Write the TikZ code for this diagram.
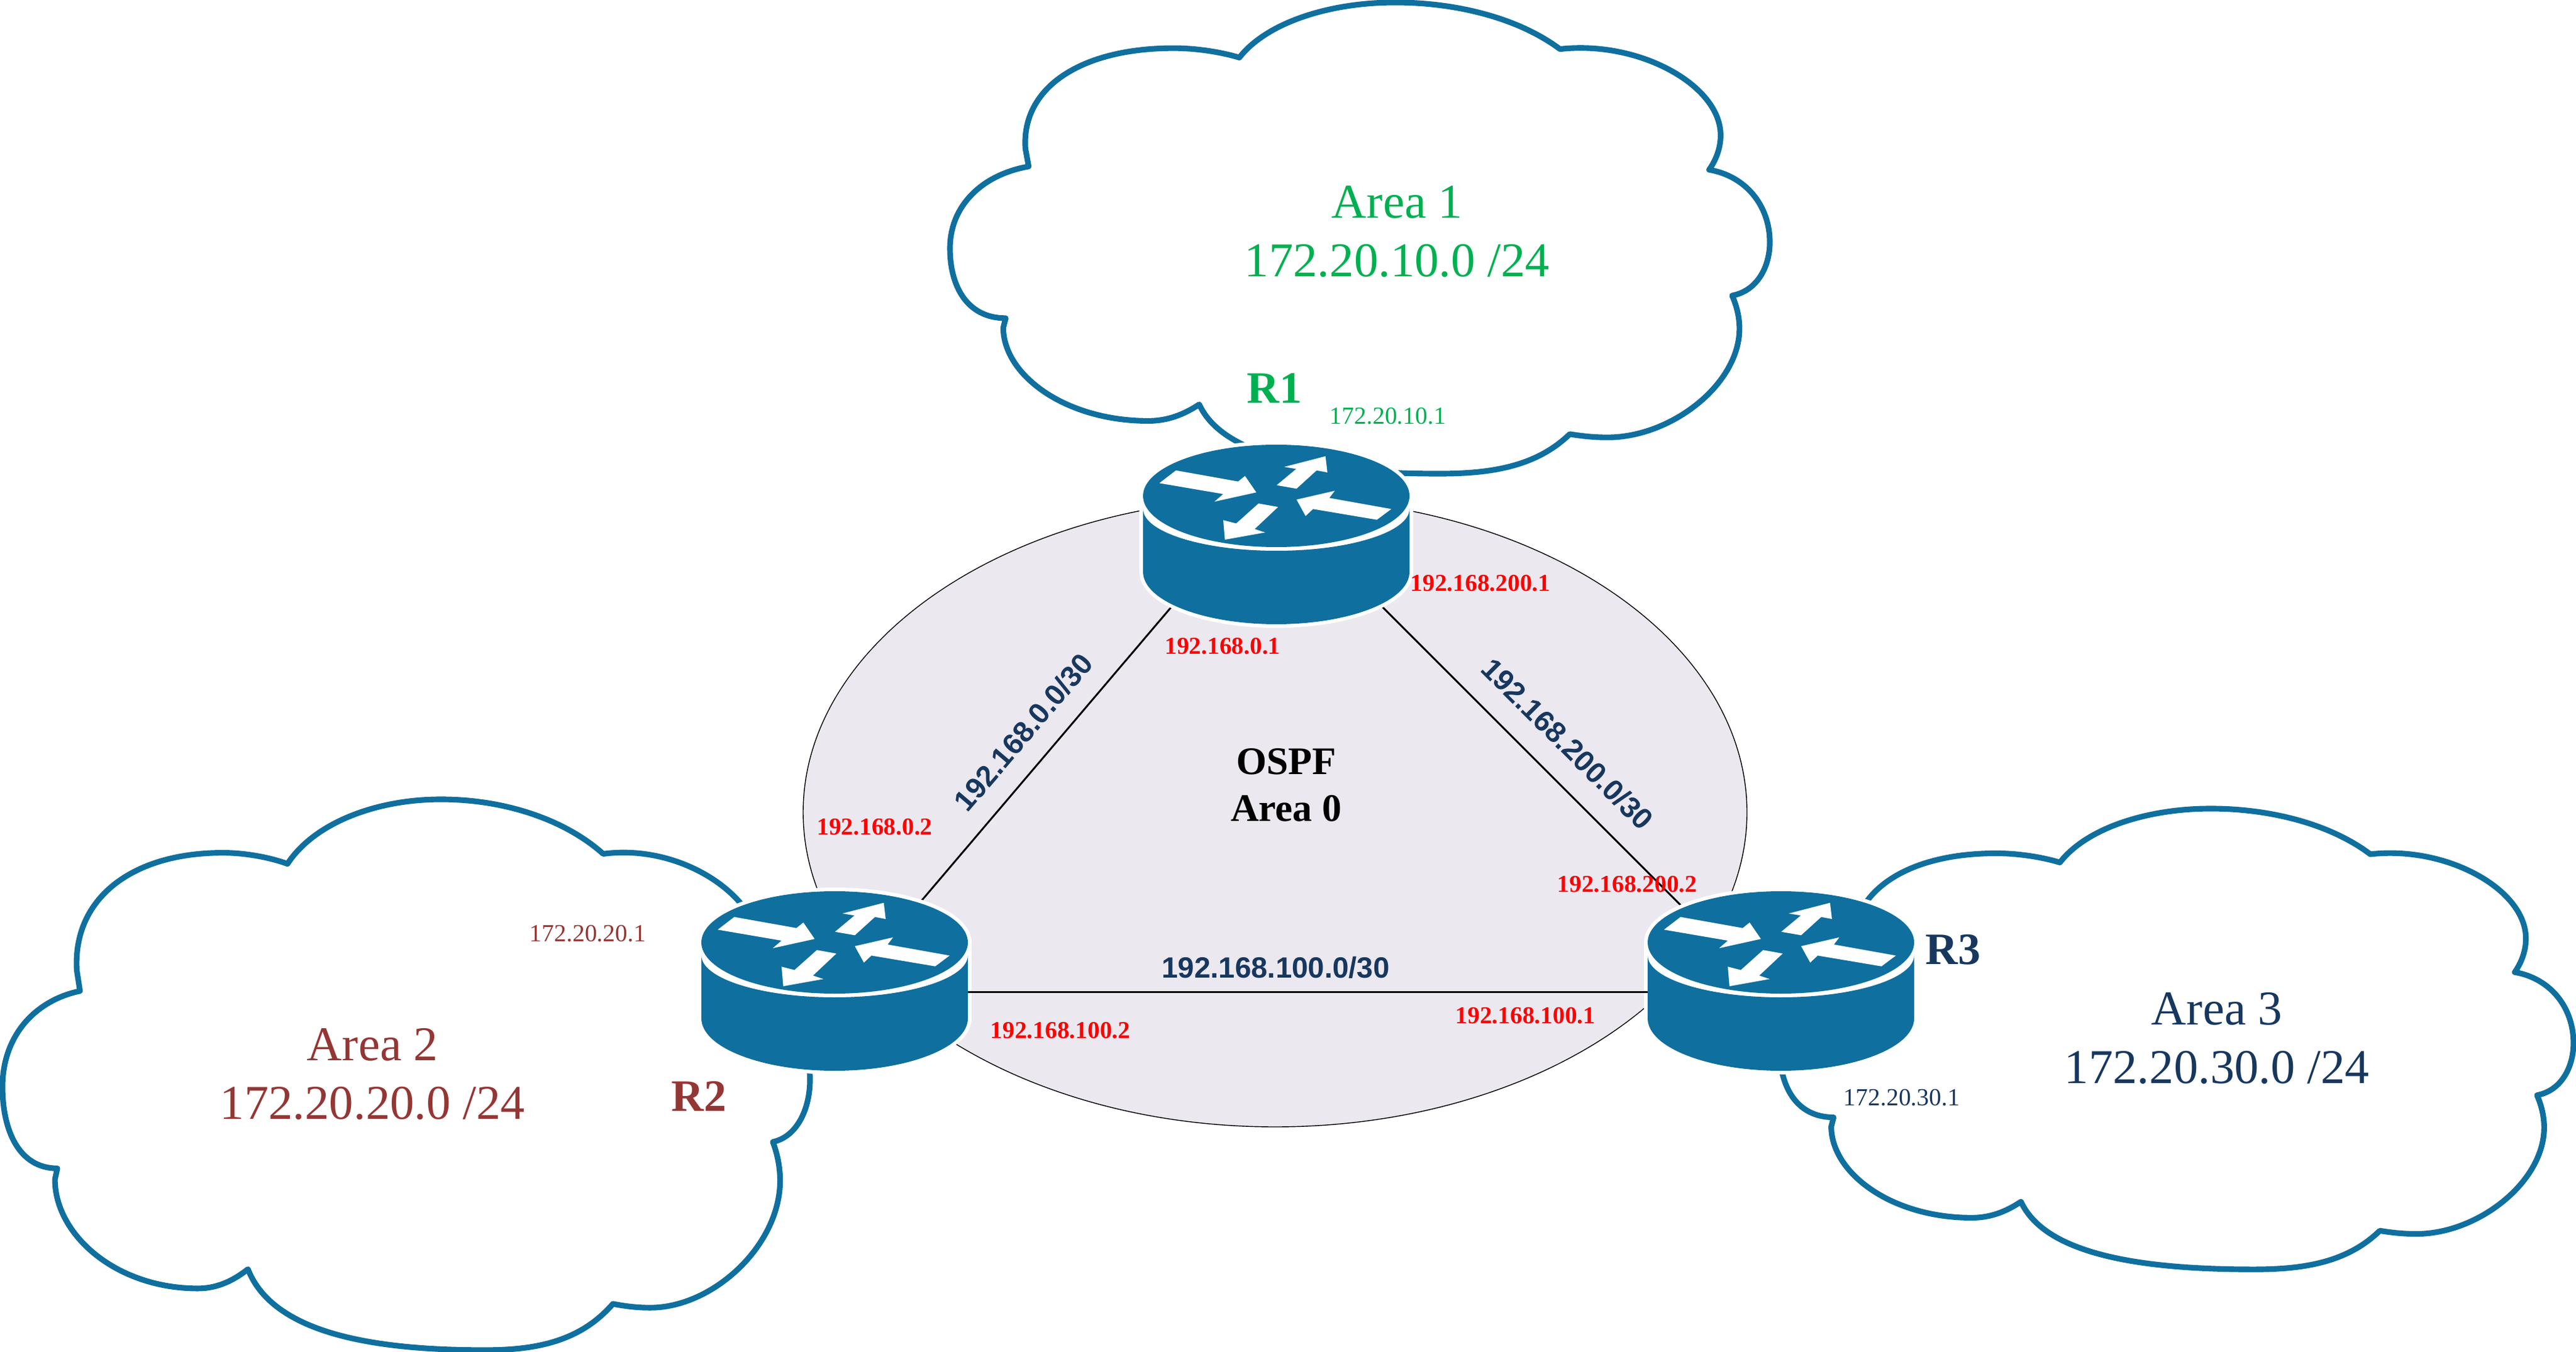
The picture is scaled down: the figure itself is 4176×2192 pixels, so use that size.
\documentclass[tikz,border=0pt]{standalone}
\usepackage{fontspec}
\setmainfont{Liberation Serif}
\setsansfont{Liberation Sans}
\definecolor{ciscoblue}{HTML}{0F6F9E}
\definecolor{areagreen}{HTML}{00B050}
\definecolor{areabrown}{HTML}{943634}
\definecolor{areanavy}{HTML}{17375E}
\definecolor{backbone}{HTML}{EBE8F0}
\tikzset{
  pics/areacloud/.style={code={
    \draw[ciscoblue,line width=2.6pt,line join=round]
      (35.3,11.7) .. controls (38.5,4.5) and (46,0) .. (54.3,0)
      .. controls (62,0) and (69.5,3.5) .. (74.4,9.9)
      .. controls (84,8) and (94,17.5) .. (94,28.2)
      .. controls (94,31) and (93.4,33.5) .. (92.6,35.5)
      .. controls (97,36.8) and (100,43) .. (100,50.9)
      .. controls (100,56) and (98.5,61.2) .. (95.4,62.2)
      .. controls (96,64.5) and (96.3,67) .. (96.3,69.2)
      .. controls (96.3,81) and (88,92.3) .. (80.2,92.3)
      .. controls (78.5,92.3) and (77,92) .. (75.6,91.6)
      .. controls (71.5,98.5) and (66,100) .. (59.7,100)
      .. controls (46,100) and (33.5,97) .. (30.4,85.3)
      .. controls (28.5,87.5) and (26.5,88.8) .. (24.2,88.8)
      .. controls (14,88.8) and (6.5,79) .. (6.5,69)
      -- (6.8,67)
      .. controls (2,67) and (0,60) .. (0,52.2)
      .. controls (0,43) and (4,36.5) .. (9.6,34.8)
      -- (9.2,31)
      .. controls (8.7,18) and (16,9.7) .. (27.3,9.7)
      .. controls (30,9.7) and (33,10.5) .. cycle;
  }},
  pics/router/.style={code={
    % white halo, then body, then lid with its four arrows
    \path[fill=white,draw=white,line width=3.4pt] (-216,0) arc (180:360:216 and 83)
      -- (216,123) arc (0:180:216 and 85) -- cycle;
    \fill[ciscoblue] (-216,21) -- (-216,123) arc (180:0:216 and 85)
      -- (216,21) arc (0:180:216 and 68) -- cycle;
    \fill[ciscoblue] (0,0) circle [x radius=216,y radius=83];
    \fill[white] (-162.7,-41.3) -- (-61.9,-23.3) -- (-50.7,-32.3) -- (-32.4,-5.7)
      -- (-100.2,9.3) -- (-86,-3) -- (-189.5,-20.7) -- cycle;
    \fill[white] (79.7,-64.3) -- (82.8,-38) -- (65.4,-41.3) -- (32.8,-11.7)
      -- (.6,-17.3) -- (32.3,-43.7) -- (12.7,-47) -- cycle;
    \fill[white] (32.8,6) -- (94.8,-8.3) -- (85.9,3.3) -- (186.4,21.3)
      -- (163.1,38.7) -- (59.6,21.3) -- (47.5,32.7) -- cycle;
    \fill[white] (-83.3,71) -- (-86,39.3) -- (-65,44.7) -- (-28.8,12.3)
      -- (2.9,18) -- (-35.1,53.7) -- (-18.1,59.3) -- cycle;
  }},
  areatext/.style={align=center,inner sep=0pt,font=\fontsize{22.4}{27}\selectfont},
  routername/.style={inner sep=0pt,font=\fontsize{20.7}{24}\selectfont\bfseries},
  lanaddr/.style={inner sep=0pt,font=\fontsize{11.3}{13}\selectfont},
  wanaddr/.style={inner sep=0pt,text=red,font=\fontsize{11.2}{13}\selectfont\bfseries},
  linklabel/.style={inner sep=0pt,text=areanavy,font=\fontsize{13.5}{16}\selectfont\sffamily\bfseries},
  wanlink/.style={black,line width=.85pt}
}
\begin{document}
\begin{tikzpicture}[x=.01cm,y=-.01cm]
\useasboundingbox (0,0) rectangle (4176,2192);

\pic[xscale=.1329*100,yscale=.0764*100] at (1540,4) {areacloud};
\pic[xscale=.1309*100,yscale=.0893*100] at (4,1296) {areacloud};
\pic[xscale=.1287*100,yscale=.0747*100] at (2885,1311) {areacloud};

% area 0
\draw[fill=backbone,draw=black,line width=.4pt] (2067,1317) circle [x radius=765,y radius=510];

\coordinate (r1west) at (2069,784);
\coordinate (r1east) at (2069,812);
\coordinate (r2north) at (1353,1626);
\coordinate (r2east) at (1569,1608);
\coordinate (r3north) at (2887,1630);
\coordinate (r3west) at (2671,1608);

\draw[wanlink] (r1west) -- (r2north);
\draw[wanlink] (r1east) -- (r3north);

\pic at (2069,804) {router};
\pic at (1353,1528) {router};
\pic at (2887,1528) {router};

\draw[wanlink] (r2east) -- (r3west);

\node[areatext,text=areagreen] (area1) at (2265,376) {Area 1\\172.20.10.0 /24};
\node[areatext,text=areabrown] (area2) at (604,1741) {Area 2\\172.20.20.0 /24};
\node[areatext,text=areanavy] (area3) at (3594,1683) {Area 3\\172.20.30.0 /24};

\node[routername,text=areagreen] (nameR1) at (2066,629) {R1};
\node[routername,text=areabrown] (nameR2) at (1133,1777) {R2};
\node[routername,text=areanavy] (nameR3) at (3166,1540) {R3};

\node[lanaddr,text=areagreen] (lan1) at (2250,675) {172.20.10.1};
\node[lanaddr,text=areabrown] (lan2) at (953,1514) {172.20.20.1};
\node[lanaddr,text=areanavy] (lan3) at (3083,1780) {172.20.30.1};

\node[wanaddr] (a12) at (1982,1048) {192.168.0.1};
\node[wanaddr] (a21) at (1418,1341) {192.168.0.2};
\node[wanaddr] (a13) at (2400,946) {192.168.200.1};
\node[wanaddr] (a31) at (2638,1434) {192.168.200.2};
\node[wanaddr] (a23) at (1719,1671) {192.168.100.2};
\node[wanaddr] (a32) at (2473,1647) {192.168.100.1};

\node[linklabel,rotate=49.5] (link12) at (1659,1187) {192.168.0.0/30};
\node[linklabel,rotate=-45] (link13) at (2541,1206) {192.168.200.0/30};
\node[linklabel] (link23) at (2068,1569) {192.168.100.0/30};

\node[align=center,inner sep=0pt,font=\fontsize{18}{21.6}\selectfont\bfseries] (ospf) at (2085,1273) {OSPF\\Area 0};

\end{tikzpicture}
\end{document}
